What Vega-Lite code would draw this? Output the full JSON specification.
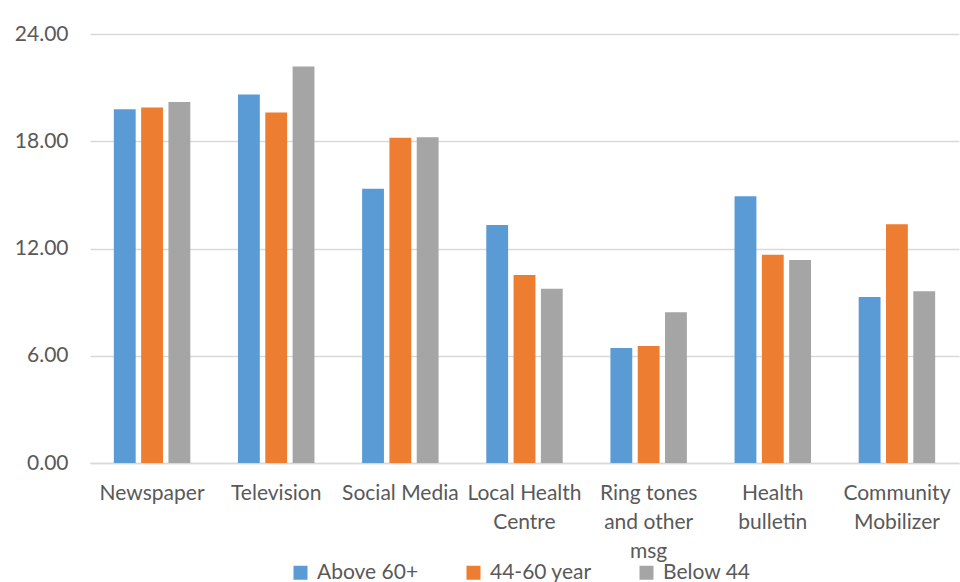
{
  "$schema": "https://vega.github.io/schema/vega-lite/v6.json",
  "width": 869,
  "height": 429,
  "autosize": {"type": "none"},
  "padding": {"left": 90, "top": 34, "right": 1, "bottom": 119},
  "background": "white",
  "data": {
    "values": [
      {"source": "Newspaper", "group": "Above 60+", "value": 19.79},
      {"source": "Newspaper", "group": "44-60 year", "value": 19.89},
      {"source": "Newspaper", "group": "Below 44", "value": 20.2},
      {"source": "Television", "group": "Above 60+", "value": 20.61},
      {"source": "Television", "group": "44-60 year", "value": 19.61},
      {"source": "Television", "group": "Below 44", "value": 22.18},
      {"source": "Social Media", "group": "Above 60+", "value": 15.34},
      {"source": "Social Media", "group": "44-60 year", "value": 18.19},
      {"source": "Social Media", "group": "Below 44", "value": 18.23},
      {"source": "Local Health Centre", "group": "Above 60+", "value": 13.31},
      {"source": "Local Health Centre", "group": "44-60 year", "value": 10.52},
      {"source": "Local Health Centre", "group": "Below 44", "value": 9.75},
      {"source": "Ring tones and other msg", "group": "Above 60+", "value": 6.44},
      {"source": "Ring tones and other msg", "group": "44-60 year", "value": 6.54},
      {"source": "Ring tones and other msg", "group": "Below 44", "value": 8.44},
      {"source": "Health bulletin", "group": "Above 60+", "value": 14.93},
      {"source": "Health bulletin", "group": "44-60 year", "value": 11.65},
      {"source": "Health bulletin", "group": "Below 44", "value": 11.36},
      {"source": "Community Mobilizer", "group": "Above 60+", "value": 9.29},
      {"source": "Community Mobilizer", "group": "44-60 year", "value": 13.35},
      {"source": "Community Mobilizer", "group": "Below 44", "value": 9.61}
    ]
  },
  "mark": {"type": "bar"},
  "encoding": {
    "x": {
      "field": "source",
      "type": "nominal",
      "sort": null,
      "scale": {"paddingInner": 0.384, "paddingOuter": 0.192},
      "axis": {
        "title": null,
        "labelAngle": 0,
        "ticks": false,
        "domain": true,
        "domainColor": "#D9D9D9",
        "domainWidth": 1.5,
        "labelPadding": 19,
        "labelFont": "Lato",
        "labelFontSize": 21,
        "labelColor": "#595959",
        "labelLineHeight": 29,
        "labelLimit": 200,
        "labelExpr": "datum.label == 'Local Health Centre' ? ['Local Health', 'Centre'] : datum.label == 'Ring tones and other msg' ? ['Ring tones', 'and other', 'msg'] : datum.label == 'Health bulletin' ? ['Health', 'bulletin'] : datum.label == 'Community Mobilizer' ? ['Community', 'Mobilizer'] : datum.label"
      }
    },
    "xOffset": {
      "field": "group",
      "type": "nominal",
      "sort": ["Above 60+", "44-60 year", "Below 44"],
      "scale": {"paddingInner": 0.2, "paddingOuter": 0}
    },
    "y": {
      "field": "value",
      "type": "quantitative",
      "scale": {"domain": [0, 24], "nice": false},
      "axis": {
        "title": null,
        "values": [0, 6, 12, 18, 24],
        "format": ".2f",
        "domain": false,
        "ticks": false,
        "grid": true,
        "gridColor": "#D9D9D9",
        "gridWidth": 1.5,
        "labelPadding": 22,
        "labelFont": "Lato",
        "labelFontSize": 21,
        "labelColor": "#595959"
      }
    },
    "color": {
      "field": "group",
      "type": "nominal",
      "sort": ["Above 60+", "44-60 year", "Below 44"],
      "scale": {
        "domain": ["Above 60+", "44-60 year", "Below 44"],
        "range": ["#5B9BD5", "#ED7D31", "#A5A5A5"]
      },
      "legend": {
        "title": null,
        "orient": "none",
        "direction": "horizontal",
        "legendX": 200,
        "legendY": 528,
        "symbolType": "square",
        "symbolSize": 196,
        "symbolStrokeWidth": 0,
        "symbolOpacity": 1,
        "labelFont": "Lato",
        "labelFontSize": 21,
        "labelColor": "#595959",
        "labelOffset": 6,
        "columnPadding": 44
      }
    }
  },
  "config": {"view": {"stroke": null}}
}
